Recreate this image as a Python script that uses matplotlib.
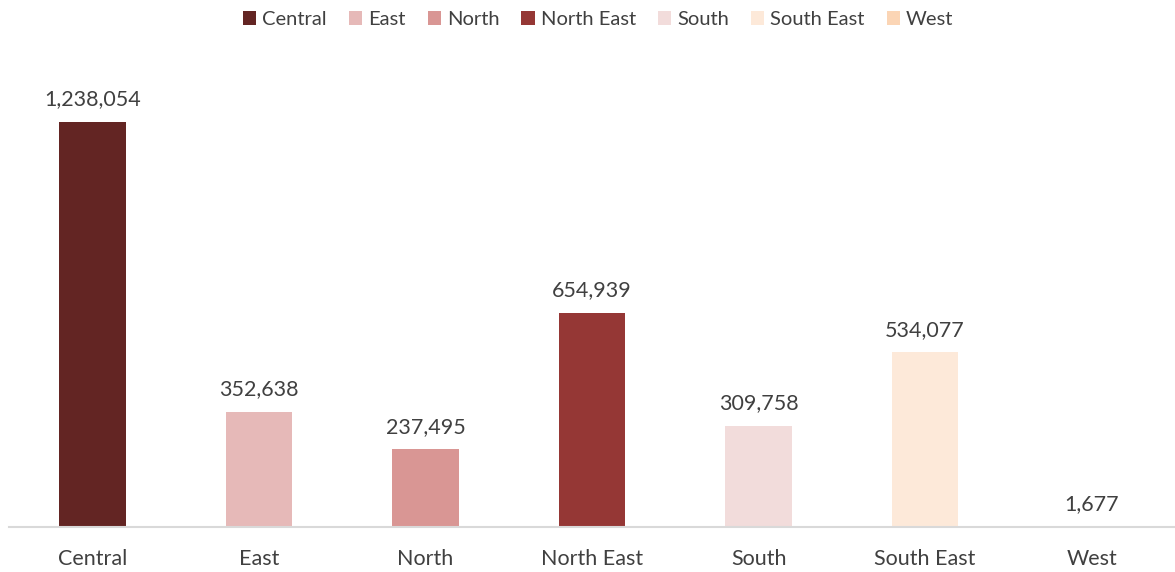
import matplotlib
matplotlib.use("Agg")
import matplotlib.pyplot as plt
from matplotlib.patches import Patch

# Data
regions = ["Central", "East", "North", "North East", "South", "South East", "West"]
counts = [1238054, 352638, 237495, 654939, 309758, 534077, 1677]
colors = ["#632523", "#E6B9B8", "#D99694", "#953735", "#F2DCDB", "#FDE9D9", "#FBD5B5"]

plt.rcParams['font.family'] = ['Lato', 'DejaVu Sans']
text_color = "#404040"

fig = plt.figure(figsize=(11.75, 5.72), dpi=100)
ax = fig.add_axes([9 / 1175, 45 / 572, 1 - 9 / 1175, (527 - 69) / 572])

x = range(len(regions))
bars = ax.bar(x, counts, width=0.4, color=colors)

# Value labels above bars
for xi, v in zip(x, counts):
    ax.annotate(f"{v:,}", (xi, v), xytext=(0, 9), textcoords="offset points",
                ha="center", va="bottom", fontsize=15.5, color=text_color)

ax.set_xlim(-0.5, len(regions) - 0.5)
ax.set_ylim(0, 1400000)
ax.set_xticks(list(x))
ax.set_xticklabels(regions, fontsize=15.5, color=text_color)
ax.tick_params(axis="x", length=0, pad=16)
ax.set_yticks([])
for side in ["top", "right", "left"]:
    ax.spines[side].set_visible(False)
ax.spines["bottom"].set_color("#D9D9D9")
ax.spines["bottom"].set_linewidth(1.5)

# Legend across the top
handles = [Patch(facecolor=c, label=r) for r, c in zip(regions, colors)]
fig.legend(handles=handles, loc="upper center", bbox_to_anchor=(0.509, 1.012),
           ncol=len(regions), frameon=False, fontsize=14.5, labelcolor=text_color,
           handlelength=0.65, handleheight=0.65, handletextpad=0.3, columnspacing=1.1)

plt.savefig("out.png", dpi=100)
